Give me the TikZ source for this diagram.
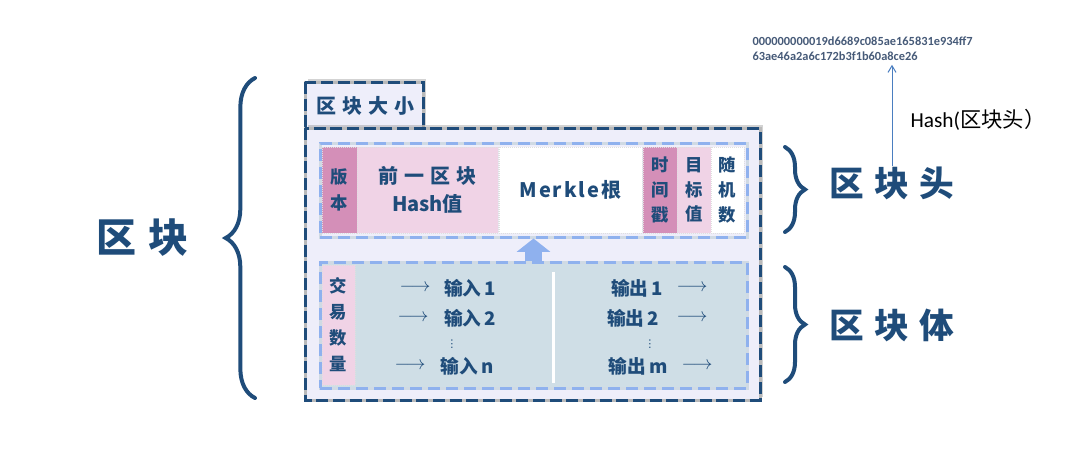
\documentclass[tikz,border=0pt]{standalone}
\usepackage{fontspec}
\setmainfont{Noto Sans CJK SC}
\newfontfamily\hand[LetterSpace=30]{Noto Sans CJK SC}
\newfontfamily\calib{Carlito}
\newfontfamily\symb{DejaVu Sans}
\usetikzlibrary{arrows.meta,decorations.pathreplacing,shadows}

\definecolor{blockblue}{RGB}{31,76,122}
\definecolor{lavender}{RGB}{238,238,250}
\definecolor{dashblue}{RGB}{143,177,238}
\definecolor{dashgray}{RGB}{208,218,228}
\definecolor{pinkdark}{RGB}{212,143,184}
\definecolor{pinklight}{RGB}{240,211,230}
\definecolor{bodyfill}{RGB}{207,222,230}
\definecolor{hashgray}{RGB}{70,90,120}
\definecolor{hashline}{RGB}{74,126,192}

\tikzset{every picture/.style={line width=0.75pt}}
\tikzset{
  outerbox/.style={fill=lavender, draw=gray!55, line width=2.25pt,
    drop shadow={shadow xshift=2.5pt, shadow yshift=2.5pt, opacity=.35},
    postaction={draw=blockblue, dash pattern=on 9pt off 3.5pt}},
  innerbox/.style={draw=dashgray, line width=2.25pt, inner sep=0pt, minimum width=320.25pt,
    postaction={draw=dashblue, dash pattern=on 9pt off 4.5pt}},
  cell/.style={draw=white!75!gray, densely dotted, line width=0.5pt, inner sep=0pt,
    minimum height=64.5pt, text=blockblue, align=center},
  brace/.style={decorate, decoration={brace, amplitude=#1}, draw=blockblue, line width=3pt, line cap=round},
  biglabel/.style={text=blockblue, inner sep=0pt},
  rowtext/.style={text=blockblue, inner sep=1pt, font=\bfseries\fontsize{14pt}{15pt}\selectfont},
  dotstext/.style={text=blockblue, inner sep=0pt, font=\symb\fontsize{8pt}{9pt}\selectfont},
}

\begin{document}
\begin{tikzpicture}[x=0.75pt,y=0.75pt,yscale=-1,xscale=1]
\useasboundingbox (0,0) rectangle (1088,462);

%Shape: Rectangle
\draw [outerbox] (305,82) rectangle (423,128) ;
%Shape: Rectangle
\draw [outerbox] (305,128) rectangle (760,400) ;

%Shape: Rectangle
\node [innerbox, fill=lavender, minimum height=70.5pt] (hdr) at (533.5,190) {};
%Shape: Rectangle
\node [innerbox, fill=bodyfill, minimum height=94.5pt] (bdy) at (533.5,325) {};

% header fields
\node [cell, fill=pinkdark, minimum width=26.25pt, font=\bfseries\fontsize{13pt}{20pt}\selectfont] (ver) at (339.5,190) {版\\本};
\node [cell, fill=pinklight, minimum width=105.75pt, font=\hand\bfseries\fontsize{15pt}{21pt}\selectfont] (prev) at (427.5,190) {前一区块\\{\rmfamily Hash值}};
\node [cell, fill=white, minimum width=107.25pt, font=\bfseries\fontsize{15pt}{16pt}\selectfont\addfontfeature{LetterSpace=10}] (merkle) at (570.5,190) {Merkle根};
\node [cell, fill=pinkdark, minimum width=25.5pt, font=\bfseries\fontsize{13pt}{18.5pt}\selectfont] (time) at (660,190) {时\\间\\戳};
\node [cell, fill=pinklight, minimum width=25.5pt, font=\bfseries\fontsize{13pt}{18.5pt}\selectfont] (target) at (694,190) {目\\标\\值};
\node [cell, fill=white, minimum width=24.75pt, font=\bfseries\fontsize{13pt}{18.5pt}\selectfont] (nonce) at (727.5,190) {随\\机\\数};

% body fields
\node [cell, fill=pinklight, minimum width=24.75pt, minimum height=90pt, font=\bfseries\fontsize{13pt}{19.5pt}\selectfont] (txcount) at (338.5,325) {交\\易\\数\\量};
%Straight Lines
\draw [white, line width=2.25pt] (553,272) -- (553,383) ;

% Text Node
\node [rowtext] (ina) at (415,288) {$\longrightarrow$};
\node [rowtext] (in1) at (470,288) {输入\,1};
\node [rowtext] (inb) at (413,318) {$\longrightarrow$};
\node [rowtext] (in2) at (470,318) {输入\,2};
\node [dotstext] (indots) at (452,344) {⋮};
\node [rowtext] (inc) at (410,366) {$\longrightarrow$};
\node [rowtext] (inn) at (467,366) {输入\,n};
% Text Node
\node [rowtext] (out1) at (637,288) {输出\,1};
\node [rowtext] (outa) at (692,288) {$\longrightarrow$};
\node [rowtext] (out2) at (633,318) {输出\,2};
\node [rowtext] (outb) at (692,318) {$\longrightarrow$};
\node [dotstext] (outdots) at (650,344) {⋮};
\node [rowtext] (outm) at (638,366) {输出\,m};
\node [rowtext] (outc) at (697,366) {$\longrightarrow$};

%Block Arrow
\draw [draw=dashblue, line width=12.75pt, -{Triangle[width=24.75pt,length=10pt]}] (bdy.north) -- (hdr.south) ;

% Text Node
\node [biglabel, font=\hand\bfseries\fontsize{15pt}{16pt}\selectfont] (size) at (365,106) {区块大小};

%Braces
\draw [brace=22pt] (255,398) -- (255,78) ;
\draw [brace=15pt] (785,147) -- (785,232) ;
\draw [brace=15pt] (785,267) -- (785,382) ;

% Text Node
\node [biglabel, font=\hand\bfseries\fontsize{30pt}{32pt}\selectfont] (block) at (142,238) {区块};
\node [biglabel, font=\hand\bfseries\fontsize{26pt}{28pt}\selectfont] (head) at (892,183) {区块头};
\node [biglabel, font=\hand\bfseries\fontsize{26pt}{28pt}\selectfont] (body) at (892,325) {区块体};

% Text Node
\node [anchor=north west, align=left, inner sep=0pt, text=hashgray, font=\calib\bfseries\fontsize{9.3pt}{11.25pt}\selectfont] (hashval) at (752,36) {000000000019d6689c085ae165831e934ff7\\63ae46a2a6c172b3f1b60a8ce26};
\node [anchor=west, inner sep=0pt, font=\fontsize{16pt}{18pt}\selectfont] (hashfn) at (910,120) {{\calib Hash(}区块头）};

%Straight Lines
\draw [hashline, -{Straight Barb[length=5pt,width=6pt]}, shorten >=3pt] (head.north) -- (head.north |- hashval.south) ;

\end{tikzpicture}
\end{document}
